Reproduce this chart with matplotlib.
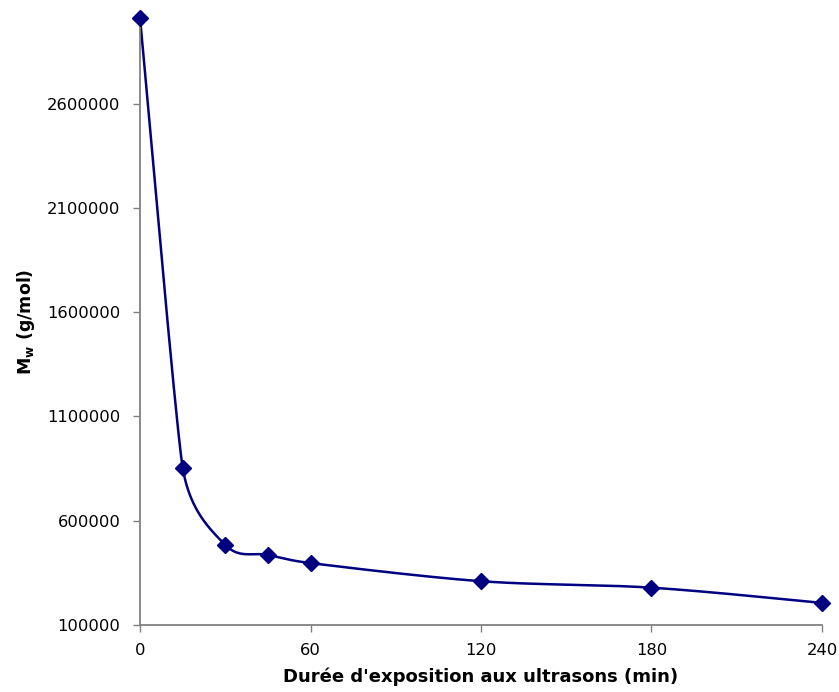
import matplotlib.pyplot as plt
import numpy as np

plt.rcParams['font.family'] = ['DejaVu Sans']
plt.rcParams['mathtext.fontset'] = 'custom'
plt.rcParams['mathtext.rm'] = 'DejaVu Sans'
plt.rcParams['mathtext.bf'] = 'DejaVu Sans:bold'

# exposure time (min) and Mw (g/mol)
duree = [0, 15, 30, 45, 60, 120, 180, 240]
mw = [3010000, 855000, 484000, 436000, 397000, 310000, 279000, 206000]
x_ticks = [0, 60, 120, 180, 240]
y_ticks = [100000, 600000, 1100000, 1600000, 2100000, 2600000]

fig = plt.figure(figsize=(8.39, 6.92), dpi=100)
ax = fig.add_axes([0.1669, 0.0968, 0.8128, 0.8772])
ax.set_xlim(0, 240)
ax.set_ylim(100000, 3010000)


def smooth_line(ax, xs, ys, n=40):
    # excel-like smoothed line, bezier in display space,
    # tangent at each point capped by the shorter neighbouring segment
    pts = ax.transData.transform(np.column_stack([xs, ys]))
    m = len(pts)
    tang = np.zeros_like(pts)
    for i in range(m):
        a = pts[max(i - 1, 0)]
        b = pts[min(i + 1, m - 1)]
        T = b - a
        dmin = min(np.hypot(*(pts[i] - a)) if i > 0 else np.inf,
                   np.hypot(*(b - pts[i])) if i < m - 1 else np.inf)
        L = np.hypot(*T) or 1
        tang[i] = T * min(1 / 6, 0.5 * dmin / L)
    out = []
    t = np.linspace(0, 1, n)[:, None]
    for i in range(m - 1):
        p1, p2 = pts[i], pts[i + 1]
        c1 = p1 + tang[i]
        c2 = p2 - tang[i + 1]
        seg = ((1 - t) ** 3) * p1 + 3 * ((1 - t) ** 2) * t * c1 + 3 * (1 - t) * t ** 2 * c2 + t ** 3 * p2
        out.append(seg)
    out = np.vstack(out)
    return ax.transData.inverted().transform(out)


curve = smooth_line(ax, duree, mw)
ax.plot(curve[:, 0], curve[:, 1], color='#000080', lw=1.8, clip_on=False)
ax.plot(duree, mw, ls='none', marker='D', ms=8, color='#000080', clip_on=False, zorder=3)

ax.set_xticks(x_ticks)
ax.set_yticks(y_ticks)
ax.set_yticklabels([str(v) for v in y_ticks])
ax.tick_params(labelsize=11.8, length=5, color='#808080', width=1)
ax.tick_params(axis='x', pad=8)
ax.tick_params(axis='y', pad=9)

for s in ['top', 'right']:
    ax.spines[s].set_visible(False)
for s in ['left', 'bottom']:
    ax.spines[s].set_color('#808080')
    ax.spines[s].set_linewidth(1.3)

ax.set_xlabel("Durée d'exposition aux ultrasons (min)", fontsize=13, fontweight='bold', labelpad=7)
ax.set_ylabel(r'$\mathbf{M_w}$ (g/mol)', fontsize=12.5, fontweight='bold', labelpad=7)

fig.savefig('out.png', dpi=100)
